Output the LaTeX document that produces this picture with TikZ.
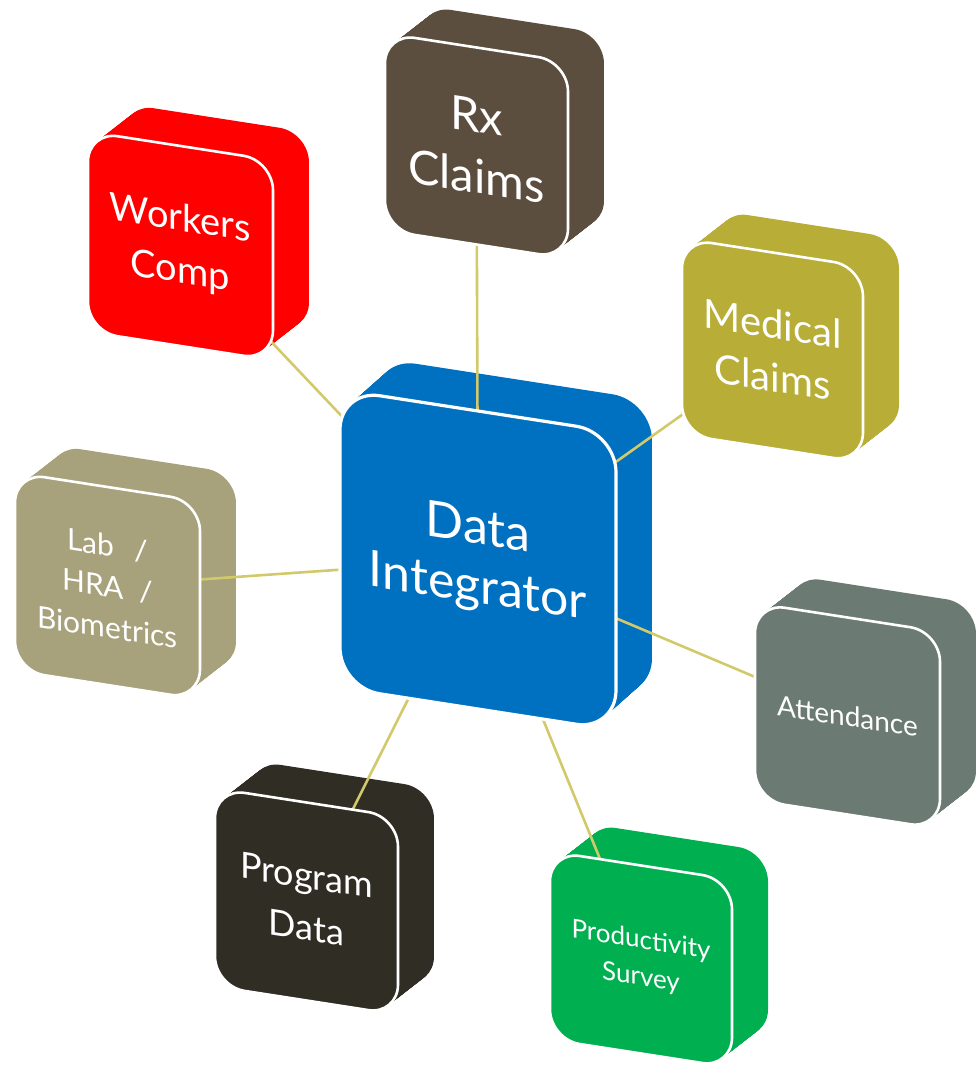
\documentclass[tikz,border=0pt]{standalone}
\usepackage{fontspec}
\setmainfont{Lato}
\usetikzlibrary{backgrounds,
                calc}

\definecolor{diblue}{HTML}{0070C0}
\definecolor{wcred}{HTML}{FF0000}
\definecolor{rxbrown}{HTML}{5C4E3E}
\definecolor{medolive}{HTML}{B7AD37}
\definecolor{labkhaki}{HTML}{A7A27B}
\definecolor{progdark}{HTML}{302D25}
\definecolor{attgray}{HTML}{6B7B73}
\definecolor{prodgreen}{HTML}{00B050}
\definecolor{linkolive}{HTML}{D2CA6A}

\pgfdeclarelayer{body}
\pgfsetlayers{body,background,main}

\begin{document}
\begin{tikzpicture}[x=1pt, y=1pt,
                    slab/.style={fill=#1},
                    face/.style={fill=#1, draw=white},
                    boxtext/.style={text=white, align=center, inner sep=0pt, transform shape},
                    link/.style={draw=linkolive, line width=2.6pt}
                    ]

    \useasboundingbox (0,0) rectangle (975,1068);

    % BOXES %
    \foreach \nm/\cx/\cy/\w/\h/\r/\dx/\dy/\lw/\col/\fs/\sk/\txt in {
        di/478/508/276/298/40/36/32/3.2/diblue/50/59/{Data\\Integrator},
        wc/180.5/822/185/200/30/36/28/2.6/wcred/38/52/{Workers\\Comp},
        rx/476.5/922/183/197/30/36/28/2.6/rxbrown/47/61/{Rx\\Claims},
        med/772.5/717.5/181/196/30/36/28/2.6/medolive/40/53/{Medical\\Claims},
        lab/107.5/482/185/198/30/36/28/2.6/labkhaki/30/41/{Lab\enspace\,/\\HRA\enspace/\\Biometrics},
        prog/306.5/166.5/183/198/30/36/28/2.6/progdark/36/52/{Program\\Data},
        att/847.5/352/185/197/30/36/28/2.6/attgray/28/36/{Attendance},
        prod/641/108.5/182/188/30/36/28/2.6/prodgreen/26/37/{Productivity\\Survey}}
    {
        % extruded body %
        \begin{pgfonlayer}{body}
        \foreach \t in {0,0.025,...,1}
        \fill[slab=\col, rounded corners=\r pt, shift={(\cx+\t*\dx,\cy+\t*\dy)}, yslant=-0.155]
            (-\w/2,-\h/2) rectangle (\w/2,\h/2);
        \end{pgfonlayer}
        % front face %
        \begin{scope}[shift={(\cx,\cy)}, yslant=-0.155]
        \draw[face=\col, line width=\lw pt, rounded corners=\r pt] (-\w/2,-\h/2) rectangle (\w/2,\h/2);
        \node[boxtext, font=\fontsize{\fs}{\sk}\selectfont] (\nm) at (0,0) {\txt};
        \end{scope}
    }

    % LINKS %
    \begin{scope}[on background layer]
    \foreach \n in {wc,rx,med,lab,prog,att,prod}
    \draw[link] (di.center) -- (\n.center);
    \end{scope}

\end{tikzpicture}
\end{document}
